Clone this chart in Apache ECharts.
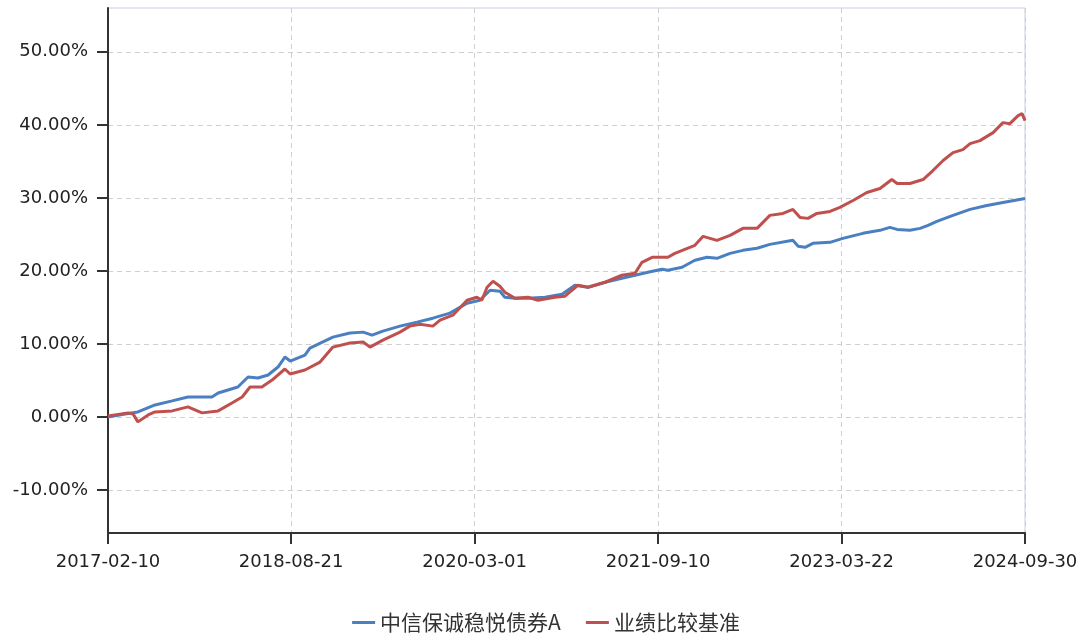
<!DOCTYPE html>
<html>
<head>
<meta charset="utf-8">
<script src="https://cdn.jsdelivr.net/npm/echarts@6/dist/echarts.min.js"></script>
<style>
  html, body { margin: 0; padding: 0; background: #fff; }
  #chart { width: 1092px; height: 644px; }
</style>
</head>
<body>
<div id="chart"></div>
<script>
const startDate = '2017-02-10'
const xTickLabels = ['2017-02-10', '2018-08-21', '2020-03-01', '2021-09-10', '2023-03-22', '2024-09-30']
const yTicks = [-10, 0, 10, 20, 30, 40, 50]
const seriesNames = ['中信保诚稳悦债券A', '业绩比较基准']

// days since startDate, cumulative return in %
const fundDays = [0, 52, 91, 143, 195, 243, 286, 316, 335, 395, 426, 456, 487, 517, 538, 554, 599, 614, 684, 736, 776, 803, 836, 888, 940, 988, 1040, 1092, 1131, 1162, 1192, 1207, 1238, 1277, 1329, 1381, 1420, 1460, 1512, 1563, 1603, 1642, 1685, 1703, 1746, 1785, 1822, 1852, 1892, 1931, 1974, 2013, 2083, 2099, 2120, 2144, 2196, 2235, 2296, 2348, 2378, 2400, 2439, 2470, 2494, 2521, 2570, 2622, 2673, 2722, 2789]
const fundValues = [0.00, 0.41, 0.68, 1.64, 2.19, 2.73, 2.73, 2.73, 3.28, 4.10, 5.46, 5.33, 5.74, 6.83, 8.20, 7.65, 8.47, 9.43, 10.93, 11.48, 11.61, 11.20, 11.75, 12.43, 12.98, 13.52, 14.21, 15.57, 15.98, 17.35, 17.21, 16.39, 16.26, 16.26, 16.39, 16.80, 18.03, 17.76, 18.44, 18.99, 19.40, 19.81, 20.22, 20.08, 20.49, 21.45, 21.86, 21.72, 22.40, 22.81, 23.09, 23.63, 24.18, 23.36, 23.22, 23.77, 23.91, 24.45, 25.14, 25.55, 25.96, 25.68, 25.55, 25.82, 26.23, 26.78, 27.60, 28.42, 28.96, 29.37, 29.92]

const benchDays = [0, 61, 76, 91, 122, 143, 195, 243, 286, 335, 377, 408, 432, 468, 499, 538, 554, 599, 645, 684, 736, 776, 797, 836, 888, 918, 949, 988, 1010, 1049, 1092, 1122, 1137, 1153, 1171, 1192, 1207, 1238, 1277, 1308, 1359, 1390, 1429, 1460, 1512, 1563, 1603, 1624, 1655, 1703, 1724, 1785, 1810, 1852, 1892, 1931, 1974, 2013, 2053, 2083, 2105, 2129, 2156, 2196, 2226, 2266, 2308, 2348, 2384, 2400, 2439, 2479, 2509, 2540, 2570, 2600, 2622, 2652, 2692, 2722, 2743, 2768, 2780, 2789]
const benchValues = [0.14, 0.55, 0.41, -0.68, 0.27, 0.68, 0.82, 1.37, 0.55, 0.82, 1.91, 2.73, 4.10, 4.10, 5.05, 6.56, 5.87, 6.42, 7.51, 9.56, 10.11, 10.25, 9.56, 10.52, 11.61, 12.43, 12.70, 12.43, 13.25, 13.93, 15.98, 16.39, 15.98, 17.76, 18.58, 17.90, 17.08, 16.26, 16.39, 15.98, 16.39, 16.53, 18.03, 17.76, 18.44, 19.40, 19.67, 21.17, 21.86, 21.86, 22.40, 23.50, 24.73, 24.18, 24.86, 25.82, 25.82, 27.60, 27.87, 28.42, 27.32, 27.19, 27.87, 28.14, 28.69, 29.64, 30.74, 31.28, 32.51, 31.97, 31.97, 32.51, 33.74, 35.11, 36.20, 36.61, 37.43, 37.84, 38.93, 40.30, 40.16, 41.26, 41.53, 40.57]

const toDay = s => Math.round((Date.parse(s) - Date.parse(startDate)) / 86400000)
const xTickDays = xTickLabels.map(toDay)
const pair = (xs, ys) => xs.map((d, i) => [d, ys[i]])

const labelFont = { fontFamily: 'DejaVu Sans', fontSize: 18, color: '#222' }

const chart = echarts.init(document.getElementById('chart'))
chart.setOption({
  animation: false,
  grid: {
    left: 108,
    right: 67,
    top: 8,
    bottom: 111,
    show: true,
    borderColor: '#c6cfdc',
    borderWidth: 1
  },
  legend: {
    data: seriesNames,
    bottom: 6,
    icon: 'rect',
    itemWidth: 23,
    itemHeight: 3,
    itemGap: 25,
    textStyle: { fontFamily: 'Noto Sans CJK SC', fontSize: 21, color: '#333' }
  },
  xAxis: {
    type: 'value',
    min: 0,
    max: toDay(xTickLabels[xTickLabels.length - 1]),
    axisLine: { onZero: false, lineStyle: { color: '#333', width: 2 } },
    axisTick: { show: true, length: 11, lineStyle: { color: '#333', width: 2 }, customValues: xTickDays },
    axisLabel: Object.assign({
      margin: 20,
      customValues: xTickDays,
      formatter: v => xTickLabels[xTickDays.indexOf(Math.round(v))] || ''
    }, labelFont),
    splitLine: { show: true, lineStyle: { color: '#cfcfcf', type: [5, 4] } }
  },
  yAxis: {
    type: 'value',
    min: -15.9,
    max: 56,
    axisLine: { show: true, lineStyle: { color: '#333', width: 2 } },
    axisTick: { show: true, length: 11, lineStyle: { color: '#333', width: 2 }, customValues: yTicks },
    axisLabel: Object.assign({
      margin: 20,
      customValues: yTicks,
      formatter: v => v.toFixed(2) + '%'
    }, labelFont),
    splitLine: { show: true, lineStyle: { color: '#cfcfcf', type: [5, 4] } }
  },
  series: [
    {
      name: seriesNames[0],
      type: 'line',
      showSymbol: false,
      data: pair(fundDays, fundValues),
      lineStyle: { color: '#4a7fc1', width: 3 },
      itemStyle: { color: '#4a7fc1' }
    },
    {
      name: seriesNames[1],
      type: 'line',
      showSymbol: false,
      data: pair(benchDays, benchValues),
      lineStyle: { color: '#c0504d', width: 3 },
      itemStyle: { color: '#c0504d' }
    }
  ]
})
</script>
</body>
</html>
